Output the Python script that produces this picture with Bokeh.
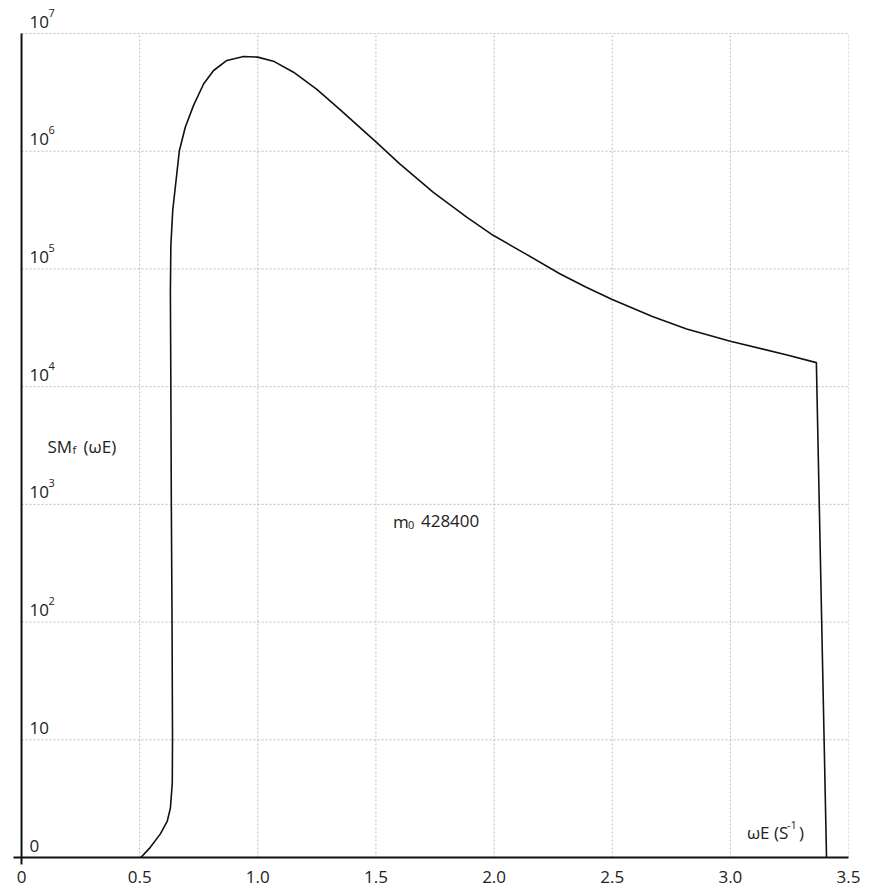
from bokeh.plotting import figure
from bokeh.models import Range1d, FixedTicker, LinearAxis, Label
from bokeh.embed import file_html
from bokeh.resources import INLINE

# ---- data ----
omega_e = [0.505, 0.545, 0.587, 0.617, 0.630, 0.638, 0.639, 0.637, 0.634, 0.632,
           0.630, 0.632, 0.640, 0.654, 0.668, 0.693, 0.728, 0.771, 0.813, 0.869,
           0.940, 0.999, 1.066, 1.151, 1.250, 1.348, 1.500, 1.602, 1.743, 1.884,
           1.996, 2.137, 2.278, 2.390, 2.500, 2.670, 2.815, 3.000, 3.240, 3.364,
           3.407]
sm_f = [1.0, 1.22, 1.58, 2.04, 2.63, 4.27, 10.0, 100.0, 1.0e3, 1.0e4,
        6.31e4, 1.585e5, 3.16e5, 5.64e5, 1.01e6, 1.60e6, 2.45e6, 3.74e6, 4.85e6, 5.90e6,
        6.38e6, 6.30e6, 5.82e6, 4.69e6, 3.35e6, 2.26e6, 1.20e6, 7.76e5, 4.47e5, 2.75e5,
        1.93e5, 1.33e5, 9.1e4, 7.0e4, 5.50e4, 3.94e4, 3.09e4, 2.43e4, 1.86e4, 1.60e4,
        1.0]

x_ticks = [0, 0.5, 1.0, 1.5, 2.0, 2.5, 3.0, 3.5]
x_tick_labels = ["0", "0.5", "1.0", "1.5", "2.0", "2.5", "3.0", "3.5"]
y_ticks = [1, 10, 1e2, 1e3, 1e4, 1e5, 1e6, 1e7]
y_tick_base = ["0", "10", "10", "10", "10", "10", "10", "10"]
y_tick_exp = ["", "", "2", "3", "4", "5", "6", "7"]

FONT = "Open Sans"
TXT = "#222222"
AXC = "#111111"
GRIDC = "#bdbdbd"

# frame: 10^7 sits 25 px below the frame top, so the top label is not clipped
DECADE_PX = 117.71
y_top = 10 ** (7 + 25 / DECADE_PX)

p = figure(width=874, height=892,
           x_range=Range1d(-0.034, 3.5), y_range=Range1d(1, y_top),
           y_axis_type="log", x_axis_location=None, y_axis_location=None,
           output_backend="svg", toolbar_location=None,
           min_border_left=13, min_border_right=26, min_border_top=8, min_border_bottom=35)
p.outline_line_color = None
p.background_fill_color = "white"
p.grid.visible = False

# dashed grid lines drawn from the tick lists
p.segment(x0=x_ticks[1:], y0=[y_ticks[0]] * (len(x_ticks) - 1),
          x1=x_ticks[1:], y1=[y_ticks[-1]] * (len(x_ticks) - 1),
          line_color=GRIDC, line_dash="2 2", line_width=1)
p.segment(x0=[x_ticks[0]] * (len(y_ticks) - 1), y0=y_ticks[1:],
          x1=[x_ticks[-1]] * (len(y_ticks) - 1), y1=y_ticks[1:],
          line_color=GRIDC, line_dash="2 2", line_width=1)

# x axis line with the small tick below the origin
ax_a = LinearAxis(ticker=FixedTicker(ticks=[0]), major_tick_out=7, major_tick_in=0,
                  axis_line_width=2, axis_line_color=AXC,
                  major_tick_line_width=2, major_tick_line_color=AXC,
                  major_label_text_font_size="1px", major_label_standoff=0,
                  major_label_text_alpha=0)
p.add_layout(ax_a, "below")
ax_b = LinearAxis(ticker=FixedTicker(ticks=x_ticks),
                  major_label_overrides={t: l for t, l in zip(x_ticks, x_tick_labels)},
                  axis_line_color=None, major_tick_line_color=None, major_tick_out=0,
                  major_tick_in=0, major_label_standoff=6,
                  major_label_text_font_size="17px", major_label_text_font=FONT,
                  major_label_text_color=TXT)
p.add_layout(ax_b, "below")

# y axis line
p.segment(x0=[0], y0=[y_ticks[0]], x1=[0], y1=[y_ticks[-1]], line_color=AXC, line_width=2)

# curve
p.line(omega_e, sm_f, line_color=AXC, line_width=1.6)

CORR = {"17px": 9, "11px": 10}

def lab(x, y, txt, dx=0, dy=0, size="17px"):
    p.add_layout(Label(x=x, y=y, x_offset=dx, y_offset=dy + CORR[size], text=txt,
                       text_font=FONT, text_font_size=size, text_color=TXT,
                       text_baseline="alphabetic", text_align="left"))

# y tick labels inside the plot
for yv, base, ex in zip(y_ticks, y_tick_base, y_tick_exp):
    lab(0, yv, base, dx=8, dy=3)
    if ex:
        lab(0, yv, ex, dx=27, dy=11, size="11px")

# SM_f (ωE)
ya = 10 ** 3.415
lab(0.11, ya, "SM")
lab(0.11, ya, "f", dx=25, dy=-4, size="11px")
lab(0.11, ya, "(ωE)", dx=36)

# m0 428400
yb = 10 ** 2.78
lab(1.572, yb, "m")
lab(1.572, yb, "0", dx=15, dy=-5, size="11px")
lab(1.572, yb, "428400", dx=28)

# ωE (S^-1)
yc = 10 ** 0.136
lab(3.07, yc, "ωE (S")
lab(3.07, yc, "-1", dx=40, dy=6, size="11px")
lab(3.07, yc, ")", dx=52)

open("out.html", "w").write(file_html(p, INLINE))
